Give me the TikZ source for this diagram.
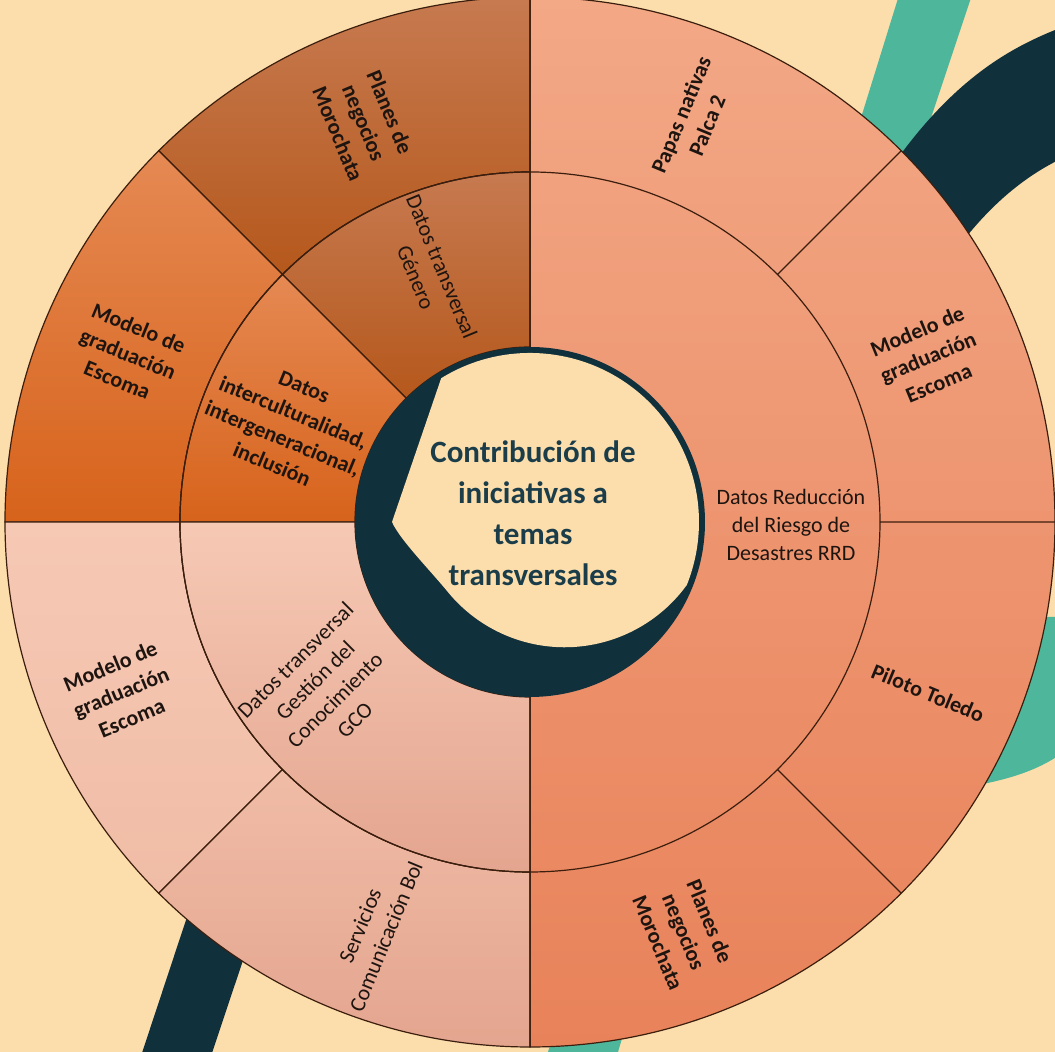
\documentclass[tikz,border=0pt]{standalone}
\usepackage{fontspec}
\setmainfont{Carlito}
\usepackage{tikz}

\definecolor{bgcream}{HTML}{FCDEAC}
\definecolor{navyband}{HTML}{10303C}
\definecolor{tealband}{HTML}{4EB79B}
\definecolor{segline}{HTML}{3B1E0E}
\definecolor{labeltext}{HTML}{1E1410}
\definecolor{titletext}{HTML}{1B3D4A}
\definecolor{rrdtop}{HTML}{F3A886}
\definecolor{rrdbot}{HTML}{E8825A}
\definecolor{browntop}{HTML}{C77A50}
\definecolor{brownbot}{HTML}{B5581C}
\definecolor{orangetop}{HTML}{E58953}
\definecolor{orangebot}{HTML}{D7631B}
\definecolor{pinktop}{HTML}{F6C9B5}
\definecolor{pinkmid}{HTML}{F0BCA6}
\definecolor{pinkbot}{HTML}{E4A58F}

\begin{document}
\begin{tikzpicture}[x=0.5pt, y=0.5pt,
      seg/.style={draw=segline, line width=0.6pt},
      lbl/.style={align=center, text=labeltext, inner sep=0pt,
                  font=\fontsize{11}{14}\selectfont\bfseries},
      lblthin/.style={lbl, font=\fontsize{11}{14}\selectfont},
      titlelbl/.style={align=center, text=titletext, inner sep=0pt,
                  font=\fontsize{15.5}{20.5}\selectfont\bfseries}]
      \useasboundingbox (-530,-530) rectangle (525,522);
      \fill[bgcream] (-530,-530) rectangle (525,522);
      \begin{scope}
            \clip (-530,-530) rectangle (525,522);
            \fill[tealband] (370,530) -- (290,272) -- (357,272) -- (443,530) -- cycle;
            \fill[navyband] (640,560) -- (560,505) .. controls (490,480) and (400,450) .. (300,250)
                  -- (380,200) .. controls (420,270) and (470,345) .. (560,375) -- (640,380) -- cycle;
            \fill[tealband] (540,-95) -- (400,-95) -- (400,-270) .. controls (470,-262) and (510,-250) .. (540,-225) -- cycle;
            \fill[navyband] (-391,-540) -- (-295,-250) -- (-224,-250) -- (-321,-540) -- cycle;
            \fill[tealband] (15,-540) -- (45,-440) -- (115,-440) -- (85,-540) -- cycle;
      \end{scope}
      \path[seg, top color=rrdtop, bottom color=rrdbot]
            (-90:525) arc[start angle=-90, end angle=90, radius=525] -- cycle;
      \path[seg, top color=browntop, bottom color=brownbot]
            (90:350) -- (90:525) arc[start angle=90, end angle=135, radius=525]
            -- (135:350) arc[start angle=135, end angle=90, radius=350] -- cycle;
      \path[seg, top color=browntop, bottom color=brownbot]
            (90:175) -- (90:350) arc[start angle=90, end angle=135, radius=350]
            -- (135:175) arc[start angle=135, end angle=90, radius=175] -- cycle;
      \path[seg, top color=orangetop, bottom color=orangebot]
            (135:350) -- (135:525) arc[start angle=135, end angle=180, radius=525]
            -- (180:350) arc[start angle=180, end angle=135, radius=350] -- cycle;
      \path[seg, top color=orangetop, bottom color=orangebot]
            (135:175) -- (135:350) arc[start angle=135, end angle=180, radius=350]
            -- (180:175) arc[start angle=180, end angle=135, radius=175] -- cycle;
      \path[seg, top color=pinktop, bottom color=pinkmid]
            (180:350) -- (180:525) arc[start angle=180, end angle=225, radius=525]
            -- (225:350) arc[start angle=225, end angle=180, radius=350] -- cycle;
      \path[seg, top color=pinkmid, bottom color=pinkbot]
            (225:350) -- (225:525) arc[start angle=225, end angle=270, radius=525]
            -- (270:350) arc[start angle=270, end angle=225, radius=350] -- cycle;
      \path[seg, top color=pinktop, bottom color=pinkbot]
            (180:175) -- (180:350) arc[start angle=180, end angle=270, radius=350]
            -- (270:175) arc[start angle=270, end angle=180, radius=175] -- cycle;
      \draw[seg] (0,0) circle[radius=350]
            (45:350) -- (45:525)
            (0:350) -- (0:525)
            (-45:350) -- (-45:525)
            (90:175) -- (90:525)
            (-90:175) -- (-90:525);
      \fill[navyband] (0,0) circle[radius=175];
      \fill[bgcream] (121.7:169) arc[start angle=121.7, end angle=-21.9, radius=169]
            arc[start angle=-36, end angle=-140, radius=151]
            .. controls (-100,-48) and (-130,-18) .. (-138,0) -- cycle;
      \node[titlelbl] (centro) at (3,9) {Contribución de\\iniciativas a\\temas\\transversales};
      \node[lblthin] (rrd) at (261,-3) {Datos Reducción\\del Riesgo de\\Desastres RRD};
      \node[lblthin, rotate=-67.5] (genero) at (-101,250) {Datos transversal\\Género};
      \node[lbl, rotate=-22.5] (intercult) at (-242,96) {Datos\\interculturalidad,\\intergeneracional,\\inclusión};
      \node[lblthin, rotate=45] (gco) at (-205,-168) {Datos transversal\\Gestión del\\Conocimiento\\GCO};
      \node[lbl, rotate=67.5] (papas) at (164,402) {Papas nativas\\Palca 2};
      \node[lbl, rotate=22.5] (escomader) at (398,165) {Modelo de\\graduación\\Escoma};
      \node[lbl, rotate=-22.5] (piloto) at (398,-171) {Piloto Toledo};
      \node[lbl, rotate=-67.5] (planesabajo) at (154,-410) {Planes de\\negocios\\Morochata};
      \node[lblthin, rotate=67.5] (servicios) at (-157,-409) {Servicios\\Comunicación Bol};
      \node[lbl, rotate=22.5] (escomaabajo) at (-409,-170) {Modelo de\\graduación\\Escoma};
      \node[lbl, rotate=-22.5] (escomaarriba) at (-402,168) {Modelo de\\graduación\\Escoma};
      \node[lbl, rotate=-67.5] (planesarriba) at (-166,399) {Planes de\\negocios\\Morochata};
\end{tikzpicture}
\end{document}
